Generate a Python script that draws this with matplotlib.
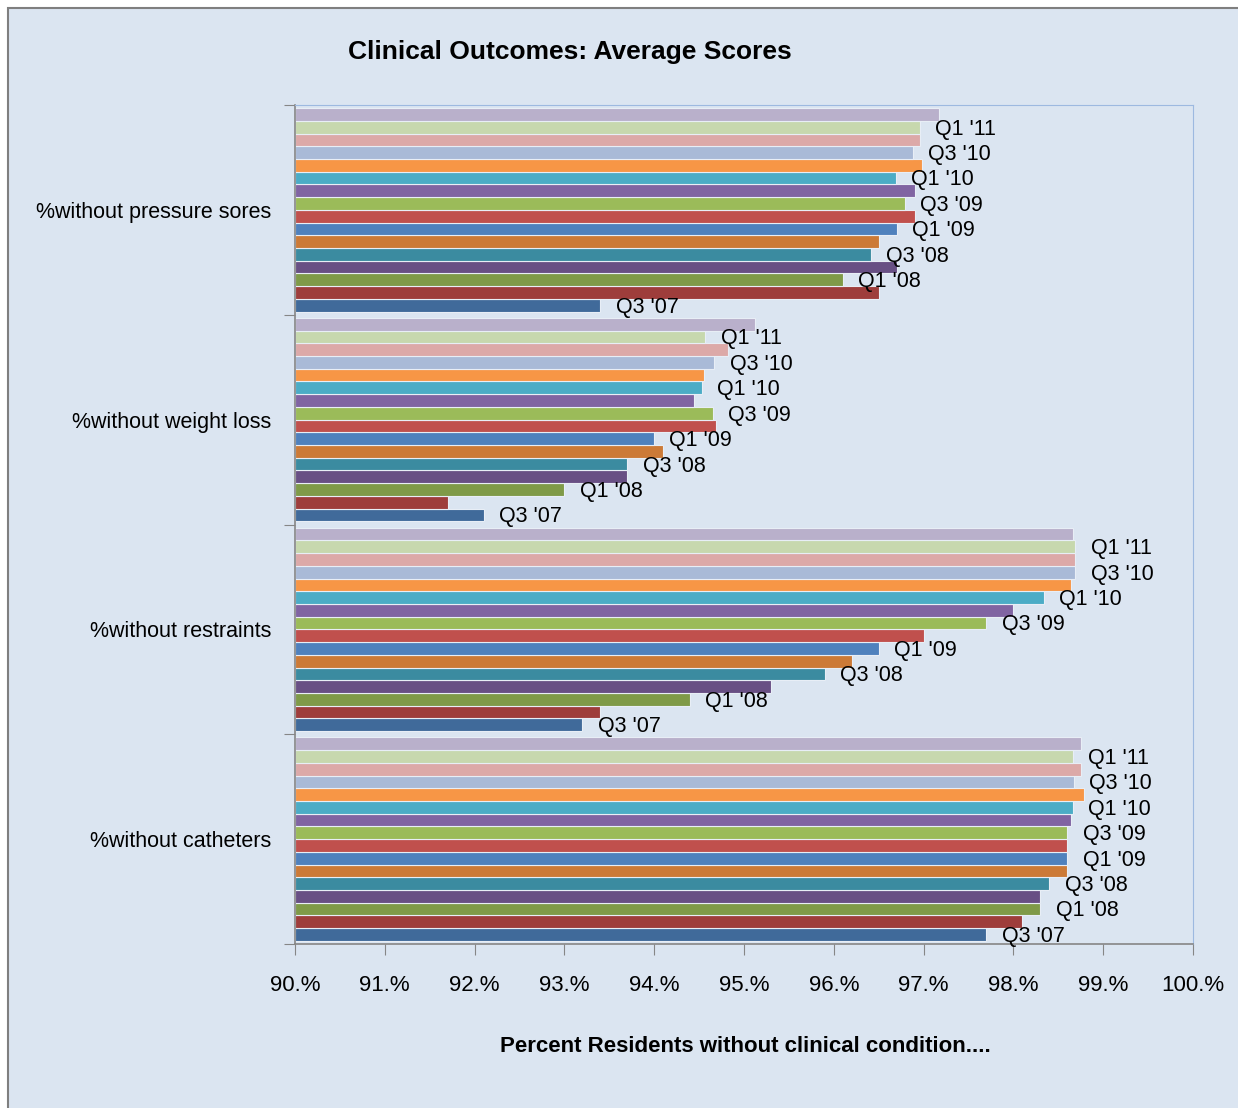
import numpy as np
import matplotlib
matplotlib.use("Agg")
import matplotlib.pyplot as plt
from matplotlib.patches import Rectangle

# categories bottom -> top (Excel bar chart order)
categories = ["%without catheters", "%without restraints",
              "%without weight loss", "%without pressure sores"]

quarters = ["Q3 '07", "Q4 '07", "Q1 '08", "Q2 '08", "Q3 '08", "Q4 '08",
            "Q1 '09", "Q2 '09", "Q3 '09", "Q4 '09", "Q1 '10", "Q2 '10",
            "Q3 '10", "Q4 '10", "Q1 '11", "Q2 '11"]

# values per category, one per quarter (percent)
catheters = [97.70, 98.10, 98.30, 98.30, 98.40, 98.60, 98.60, 98.60,
             98.60, 98.64, 98.66, 98.79, 98.67, 98.75, 98.66, 98.75]
restraints = [93.20, 93.40, 94.40, 95.30, 95.90, 96.20, 96.50, 97.00,
              97.70, 98.00, 98.34, 98.64, 98.69, 98.69, 98.69, 98.66]
weight_loss = [92.10, 91.70, 93.00, 93.70, 93.70, 94.10, 94.00, 94.69,
               94.65, 94.44, 94.53, 94.56, 94.67, 94.82, 94.57, 95.12]
pressure_sores = [93.40, 96.50, 96.10, 96.70, 96.41, 96.50, 96.70, 96.90,
                  96.79, 96.90, 96.69, 96.98, 96.88, 96.96, 96.96, 97.17]

colors = ["#406A9A", "#9E3D3B", "#7F9A48", "#684F84", "#3B8BA0", "#CC7A37",
          "#4F81BD", "#C0504D", "#9BBB59", "#8064A2", "#4BACC6", "#F79646",
          "#A9BAD7", "#DCA9A8", "#C7D8AE", "#B9B0CB"]

data = np.array([catheters, restraints, weight_loss, pressure_sores])

bg = "#DBE5F1"
font = ["Liberation Sans", "DejaVu Sans"]

fig = plt.figure(figsize=(12.38, 11.08), dpi=100, facecolor="white")
W, H = 1238, 1108
fig.patches.append(Rectangle((8 / W, -0.1), 1.2, 1 - 8 / H + 0.1,
                             transform=fig.transFigure, facecolor=bg,
                             edgecolor="#7F7F7F", linewidth=1.5, zorder=-5))

ax = fig.add_axes([295 / W, 1 - 944 / H, (1193 - 295) / W, (944 - 105) / H])
ax.set_facecolor(bg)

n = len(quarters)
gap = 0.015
bh = (1 - 2 * gap) / n
for i, q in enumerate(quarters):
    y = np.arange(len(categories)) - 0.5 + gap + bh * (i + 0.5)
    ax.barh(y, data[:, i] - 90, left=90, height=bh, color=colors[i],
            edgecolor="#E8EEF6", linewidth=0.8, zorder=2)
    if i % 2 == 0 and i < n - 1:
        for j in range(len(categories)):
            ax.text(data[j, i] + 0.17, y[j] - bh * 0.15, q, ha="left",
                    va="center", fontsize=15.5, family=font, zorder=3)

ax.set_xlim(90, 100)
ax.set_ylim(-0.5, len(categories) - 0.5)
ax.set_xticks(np.arange(90, 100.1, 1))
ax.set_xticklabels([f"{v:.0f}.%" for v in np.arange(90, 100.1, 1)],
                   fontsize=16, family=font)
ax.set_yticks(np.arange(len(categories) + 1) - 0.5, minor=False)
ax.set_yticklabels([])
ax.set_yticks(np.arange(len(categories)), minor=True)
ax.set_yticklabels(categories, minor=True, fontsize=15.5, family=font)
ax.tick_params(axis="y", which="minor", length=0, pad=17)
ax.tick_params(axis="y", which="major", length=8, color="#868686")
ax.tick_params(axis="x", length=8, color="#868686", pad=14)

for s in ["top", "right"]:
    ax.spines[s].set_color("#9DB9E0")
for s in ["left", "bottom"]:
    ax.spines[s].set_color("#868686")
    ax.spines[s].set_linewidth(1.2)

fig.text(570 / W, 1 - 52 / H, "Clinical Outcomes: Average Scores",
         ha="center", va="center", fontsize=19, fontweight="bold", family=font)
fig.text(745 / W, 1 - 1046 / H, "Percent Residents without clinical condition....",
         ha="center", va="center", fontsize=16, fontweight="bold", family=font)

fig.savefig("out.png", dpi=100, facecolor=fig.get_facecolor())
